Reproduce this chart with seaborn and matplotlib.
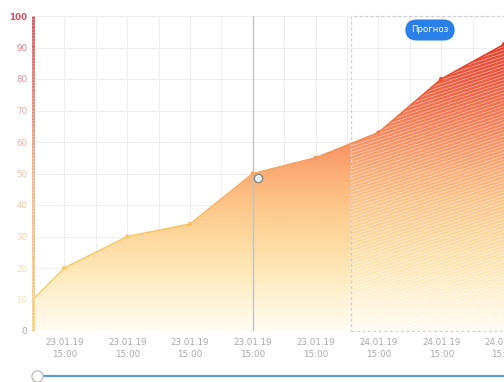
import numpy as np
import matplotlib
matplotlib.use("Agg")
import matplotlib.pyplot as plt
import seaborn as sns
from matplotlib.colors import LinearSegmentedColormap, Normalize
from matplotlib.collections import LineCollection
from matplotlib.patches import Polygon, Rectangle
from matplotlib.lines import Line2D

# ---- data ----
x_pos = [0.5, 1, 2, 3, 4, 5, 6, 7, 8]
values = [10, 20, 30, 34, 50, 55, 63, 80, 91]
marker_x = [1, 2, 3, 4, 5, 6, 7, 8]
marker_y = [20, 30, 34, 50, 55, 63, 80, 91]
tick_pos = [1, 2, 3, 4, 5, 6, 7, 8]
tick_labels = ["23.01.19\n15:00"] * 5 + ["24.01.19\n15:00"] * 3
y_ticks = [0, 10, 20, 30, 40, 50, 60, 70, 80, 90, 100]
forecast_start = 5.56
cursor_x = 4
forecast_label = "Прогноз"

sns.set_theme(style="white")
plt.rcParams["font.family"] = ["DejaVu Sans"]

fill_cmap = LinearSegmentedColormap.from_list("fill", [
    (0.00, "#fffcf2"), (0.10, "#fff3d6"), (0.20, "#fee7b5"),
    (0.30, "#fdd89e"), (0.40, "#fdc68a"), (0.50, "#fbae76"),
    (0.60, "#f89264"), (0.70, "#f47550"), (0.80, "#ee5a3e"),
    (0.90, "#e74532"), (1.00, "#df3428")])
line_cmap = LinearSegmentedColormap.from_list("line", [
    (0.0, "#f8d070"), (0.3, "#f6c86a"), (0.5, "#f8aa66"),
    (0.7, "#f06a3e"), (0.85, "#e5412a"), (1.0, "#d92d22")])
axis_cmap = LinearSegmentedColormap.from_list("axis", [
    (0.0, "#f7d27a"), (0.5, "#f2b28a"), (1.0, "#d9505c")])
norm = Normalize(0, 100)

W, H = 504, 382
fig = plt.figure(figsize=(W / 100, H / 100), dpi=100)
ax = fig.add_axes([33 / W, (H - 331) / H, (W - 33) / W, 315 / H])
ax.set_xlim(0.5, 8.0)
ax.set_ylim(0, 100)

# grid
for gx in np.arange(1.0, 8.01, 0.5):
    ax.axvline(gx, color="#eeeeee", lw=0.8, zorder=0)
for gy in range(10, 101, 10):
    ax.axhline(gy, color="#eeeeee", lw=0.8, zorder=0)

# gradient fill
poly_pts = [(x_pos[0], 0)] + list(zip(x_pos, values)) + [(x_pos[-1], 0)]
poly = Polygon(poly_pts, closed=True, facecolor="none", edgecolor="none")
ax.add_patch(poly)
grad = np.linspace(0, 1, 256).reshape(-1, 1)
im = ax.imshow(grad, cmap=fill_cmap, origin="lower", aspect="auto",
               extent=[0.5, 8.0, 0, 100], zorder=1, interpolation="bilinear")
im.set_clip_path(poly)

# forecast hatch (white stripes)
hx = np.array([forecast_start, 8.0])
for off in np.arange(-40, 110, 1.05):
    ln, = ax.plot(hx, off + (hx - forecast_start) * 6.5, color="white",
                  lw=0.6, alpha=0.5, zorder=2)
    ln.set_clip_path(poly)

# forecast dashed box
ax.add_patch(Rectangle((forecast_start, 0), 8.0 - forecast_start + 0.2, 100,
                       fill=False, edgecolor="#cfcfcf", lw=0.9,
                       linestyle=(0, (2.2, 2.2)), zorder=3, clip_on=False))

# cursor line
ax.plot([cursor_x, cursor_x], [0, 100], color="#c4c4c4", lw=1.0, zorder=3)

# gradient line
pts = np.array([x_pos, values]).T
segs = []
cols = []
for i in range(len(pts) - 1):
    xs = np.linspace(pts[i, 0], pts[i + 1, 0], 12)
    ys = np.linspace(pts[i, 1], pts[i + 1, 1], 12)
    for j in range(11):
        segs.append([(xs[j], ys[j]), (xs[j + 1], ys[j + 1])])
        cols.append(line_cmap(norm((ys[j] + ys[j + 1]) / 2)))
ax.add_collection(LineCollection(segs, colors=cols, linewidths=1.1, zorder=4))

# markers
sns.scatterplot(x=marker_x, y=marker_y, hue=marker_y, palette=line_cmap,
                hue_norm=(0, 100), legend=False, s=10, linewidth=0,
                ax=ax, zorder=5)
# hover marker
ax.plot([cursor_x + 0.08], [48.5], marker="o", ms=6, mfc="#e8f4f4",
        mec="#888888", mew=1.0, zorder=6)

# y axis gradient line
yy = np.linspace(0, 100, 101)
ysegs = [[(0.5, yy[i]), (0.5, yy[i + 1])] for i in range(100)]
ycols = [axis_cmap(norm(yy[i])) for i in range(100)]
ax.add_collection(LineCollection(ysegs, colors=ycols, linewidths=2.0,
                                 zorder=6, clip_on=False))

# ticks
for s in ax.spines.values():
    s.set_visible(False)
ax.set_yticks(y_ticks)
ax.set_yticklabels([str(v) for v in y_ticks])
ylab_cols = {0: "#a8a8a8", 10: "#f6e2b4", 20: "#f5dcaa", 30: "#f3d2a4",
             40: "#f2cba6", 50: "#f0c2a8", 60: "#ecb4a6", 70: "#e9a8a4",
             80: "#e6959a", 90: "#e27f86", 100: "#d4535e"}
for lab, v in zip(ax.get_yticklabels(), y_ticks):
    lab.set_color(ylab_cols[v])
    lab.set_fontsize(6.3)
    if v == 100:
        lab.set_fontweight("bold")
ax.tick_params(axis="y", length=0, pad=4)
ax.set_xticks(tick_pos)
ax.set_xticklabels(tick_labels, fontsize=6.3, color="#a9a9a9", linespacing=1.5)
ax.tick_params(axis="x", length=0, pad=5)
ax.set_xlabel("")
ax.set_ylabel("")

# forecast pill
fig.text(430 / W, (H - 30) / H, forecast_label, color="white", fontsize=6.2,
         ha="center", va="center", zorder=11,
         bbox=dict(boxstyle="round,pad=0.7,rounding_size=1.3",
                   facecolor="#2a7fe8", edgecolor="none"))

# slider
sy = (H - 376) / H
fig.add_artist(Line2D([37 / W, 1.0], [sy, sy], color="#5b9bd8", lw=1.6,
                      transform=fig.transFigure))
fig.add_artist(Line2D([37 / W], [sy], marker="o", ms=8, mfc="white",
                      mec="#bdbdbd", mew=1.0, transform=fig.transFigure))

fig.savefig("out.png", dpi=100)
